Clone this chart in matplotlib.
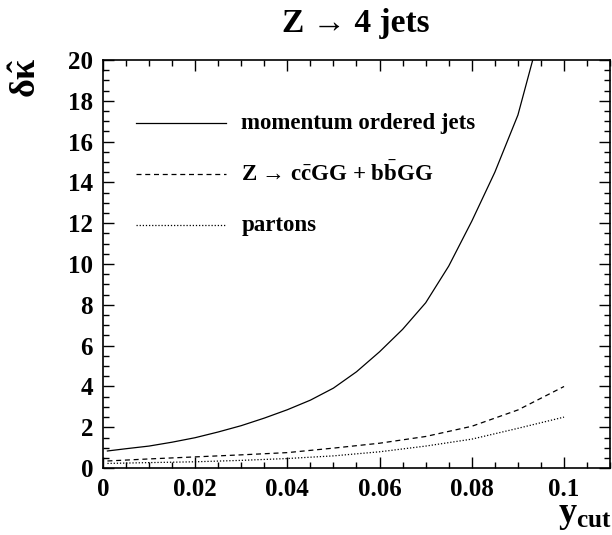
#!/usr/bin/env python3
# Z -> 4 jets: delta kappa-hat versus y_cut

from matplotlib import pyplot as plt
from matplotlib.ticker import MultipleLocator

# values
ycut = [0.001, 0.005, 0.01, 0.015, 0.02, 0.025, 0.03, 0.035, 0.04, 0.045,
        0.05, 0.055, 0.06, 0.065, 0.07, 0.075, 0.08, 0.085, 0.09, 0.0925,
        0.095]
jets = [0.84, 0.95, 1.08, 1.27, 1.49, 1.77, 2.08, 2.45, 2.86, 3.33,
        3.92, 4.72, 5.7, 6.8, 8.1, 9.9, 12.1, 14.5, 17.3, 19.4,
        21.5]

ycut_b = [0.001, 0.01, 0.02, 0.03, 0.04, 0.05, 0.06, 0.07, 0.08, 0.09, 0.1]
ccbb = [0.35, 0.45, 0.55, 0.65, 0.76, 0.98, 1.22, 1.55, 2.05, 2.85, 4.0]
partons = [0.23, 0.27, 0.31, 0.38, 0.47, 0.6, 0.8, 1.08, 1.42, 1.95, 2.5]

xticks = [0, 0.02, 0.04, 0.06, 0.08, 0.1]
xticklabels = ['0', '0.02', '0.04', '0.06', '0.08', '0.1']
yticks = [0, 2, 4, 6, 8, 10, 12, 14, 16, 18, 20]

labels = ['momentum ordered jets',
          'Z \u2192 c$\\bar{\\mathrm{c}}$GG + b$\\bar{\\mathrm{b}}$GG',
          'partons']


def main():
    plt.rcParams['font.family'] = ['Liberation Serif', 'DejaVu Serif']
    plt.rcParams['font.weight'] = 'bold'
    plt.rcParams['mathtext.fontset'] = 'custom'
    plt.rcParams['mathtext.rm'] = 'Liberation Serif:bold'
    plt.rcParams['mathtext.it'] = 'Liberation Serif:bold:italic'
    plt.rcParams['mathtext.bf'] = 'Liberation Serif:bold'

    fig = plt.figure(figsize=(6.12, 5.35), dpi=100)
    ax = fig.add_axes([0.168, 0.125, 0.829, 0.763])

    ax.plot(ycut, jets, color='black', lw=0.9, ls='-')
    ax.plot(ycut_b, ccbb, color='black', lw=0.9, ls=(0, (4, 3)))
    ax.plot(ycut_b, partons, color='black', lw=0.9, ls=(0, (1, 1.5)))

    ax.set_xlim(0, 0.11)
    ax.set_ylim(0, 20)
    ax.set_xticks(xticks)
    ax.set_xticklabels(xticklabels)
    ax.set_yticks(yticks)
    ax.xaxis.set_minor_locator(MultipleLocator(0.005))
    ax.yaxis.set_minor_locator(MultipleLocator(0.5))
    ax.tick_params(which='both', direction='in', top=True, right=True,
                   labelsize=18, width=1.0)
    ax.tick_params(which='major', length=8, pad=7)
    ax.tick_params(which='minor', length=4.3)
    for s in ax.spines.values():
        s.set_linewidth(1.2)

    # legend drawn by hand, like the original
    leg_y = [16.9, 14.4, 11.9]
    styles = ['-', (0, (4, 3)), (0, (1, 1.5))]
    for yy, st, lab in zip(leg_y, styles, labels):
        ax.plot([0.0072, 0.0268], [yy, yy], color='black', lw=0.9, ls=st)
        ax.text(0.030, yy, lab, fontsize=16.5, fontweight='bold',
                va='center', ha='left')

    fig.text(0.582, 0.94, 'Z \u2192 4 jets', fontsize=24, fontweight='bold',
             ha='center', va='baseline')
    fig.text(0.045, 0.855, r'$\mathrm{\delta\hat{\kappa}}$', fontsize=26,
             rotation=90, ha='center', va='center')
    fig.text(0.955, 0.025, r'$\mathrm{y_{cut}}$', fontsize=26,
             ha='center', va='baseline')

    fig.savefig('out.png', dpi=100)


if __name__ == '__main__':
    main()
